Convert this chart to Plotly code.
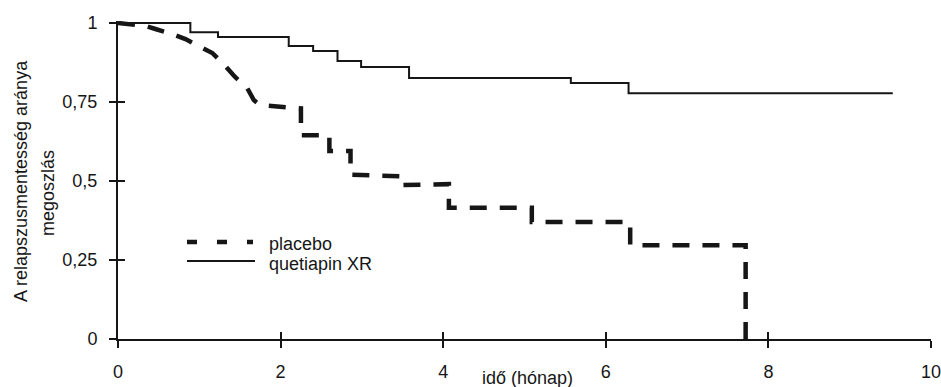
import plotly.graph_objects as go

# ---- data ----
# quetiapin XR: Kaplan-Meier steps (time in months, proportion relapse-free)
quet_time = [0, 0.89, 1.23, 2.10, 2.40, 2.70, 2.99, 3.58, 5.57, 6.28, 9.53]
quet_surv = [1.0, 0.971, 0.956, 0.927, 0.911, 0.880, 0.861, 0.826, 0.810, 0.778, 0.778]

# placebo: vertices of the drawn curve
plac_time = [0, 0.35, 0.46, 0.67, 0.83, 1.01, 1.16, 1.32, 1.44, 1.59, 1.67, 1.75, 2.0,
             2.25, 2.25, 2.6, 2.6, 2.86, 2.86, 3.48, 3.48, 4.07, 4.07, 5.09, 5.09,
             6.30, 6.30, 7.72, 7.72]
plac_surv = [1.0, 0.99, 0.981, 0.965, 0.949, 0.927, 0.905, 0.864, 0.829, 0.794, 0.756, 0.740, 0.735,
             0.73, 0.645, 0.645, 0.595, 0.595, 0.52, 0.515, 0.487, 0.49, 0.415, 0.415, 0.37,
             0.37, 0.297, 0.297, 0.0]

x_ticks = [0, 2, 4, 6, 8, 10]
x_tick_labels = ["0", "2", "4", "6", "8", "10"]
y_ticks = [0, 0.25, 0.5, 0.75, 1]
y_tick_labels = ["0", "0,25", "0,5", "0,75", "1"]

series_names = ["placebo", "quetiapin XR"]
x_title = "idő (hónap)"
y_title_1 = "A relapszusmentesség aránya"
y_title_2 = "megoszlás"

# ---- layout geometry ----
W, H = 941, 387
L, R, T, B = 118, 931, 21, 339
PX_PER_Y = 316.0
x_range = [0, 10]
y_range = [0, (B - T) / PX_PER_Y]


def pxx(xp):
    return (xp - L) / (R - L)


def pxy(yp):
    return (B - yp) / (B - T)


INK = "#161616"
FONT = "Liberation Sans, Arial, sans-serif"

fig = go.Figure()
fig.add_trace(go.Scatter(x=quet_time, y=quet_surv, mode="lines", line_shape="hv",
                         line=dict(color=INK, width=2), name=series_names[1],
                         showlegend=False, hoverinfo="skip"))
fig.add_trace(go.Scatter(x=plac_time, y=plac_surv, mode="lines",
                         line=dict(color=INK, width=4.5, dash="17px,13px"),
                         name=series_names[0], showlegend=False, hoverinfo="skip"))
# invisible trace that creates the overlay axes used for the inner halves of the crossing ticks
fig.add_trace(go.Scatter(x=[x_ticks[0]], y=[y_ticks[0]], xaxis="x2", yaxis="y2", mode="markers",
                         marker=dict(opacity=0, size=1), showlegend=False, hoverinfo="skip"))

axis_common = dict(showgrid=False, zeroline=False, ticks="outside", ticklen=7, automargin=False,
                   tickwidth=2, tickcolor=INK, tickfont=dict(family=FONT, size=18, color=INK),
                   ticklabeloverflow="allow")
overlay_common = dict(showticklabels=False, showline=False, showgrid=False, zeroline=False,
                      ticks="inside", ticklen=7, tickwidth=2, tickcolor=INK, automargin=False,
                      tickmode="array")

fig.update_layout(
    width=W, height=H,
    margin=dict(l=L, r=W - R, t=T, b=H - B, pad=0, autoexpand=False),
    paper_bgcolor="white", plot_bgcolor="white",
    xaxis=dict(range=x_range, tickmode="array", tickvals=x_ticks, ticktext=x_tick_labels,
               showline=True, linecolor=INK, linewidth=2, ticklabelstandoff=8, **axis_common),
    yaxis=dict(range=y_range, tickmode="array", tickvals=y_ticks, ticktext=y_tick_labels,
               showline=True, linecolor=INK, linewidth=2, ticklabelstandoff=8, **axis_common),
    xaxis2=dict(range=x_range, overlaying="x", anchor="y2", side="bottom",
                tickvals=x_ticks, **overlay_common),
    yaxis2=dict(range=y_range, overlaying="y", anchor="x2", side="left",
                tickvals=y_ticks, **overlay_common),
    showlegend=False,
)

# axis titles
fig.add_annotation(text=y_title_1, xref="paper", yref="paper", x=pxx(21), y=pxy(181),
                   textangle=-90, showarrow=False, xanchor="center", yanchor="middle",
                   font=dict(family=FONT, size=18, color=INK))
fig.add_annotation(text=y_title_2, xref="paper", yref="paper", x=pxx(48), y=pxy(193),
                   textangle=-90, showarrow=False, xanchor="center", yanchor="middle",
                   font=dict(family=FONT, size=18, color=INK))
fig.add_annotation(text=x_title, xref="paper", yref="paper", x=pxx(527), y=pxy(378),
                   showarrow=False, xanchor="center", yanchor="middle",
                   font=dict(family=FONT, size=18, color=INK))

# legend (drawn manually to match the long sample lines)
fig.add_shape(type="line", xref="paper", yref="paper", x0=pxx(187), x1=pxx(253),
              y0=pxy(242), y1=pxy(242), line=dict(color=INK, width=4.5, dash="10px,20px"))
fig.add_shape(type="line", xref="paper", yref="paper", x0=pxx(187), x1=pxx(255),
              y0=pxy(261), y1=pxy(261), line=dict(color=INK, width=2))
fig.add_annotation(text=series_names[0], xref="paper", yref="paper", x=pxx(267), y=pxy(244),
                   showarrow=False, xanchor="left", yanchor="middle",
                   font=dict(family=FONT, size=18, color=INK))
fig.add_annotation(text=series_names[1], xref="paper", yref="paper", x=pxx(267), y=pxy(264),
                   showarrow=False, xanchor="left", yanchor="middle",
                   font=dict(family=FONT, size=18, color=INK))

fig.write_html("out.html", config={"displayModeBar": False},
               post_script="document.body.style.margin='0';")
